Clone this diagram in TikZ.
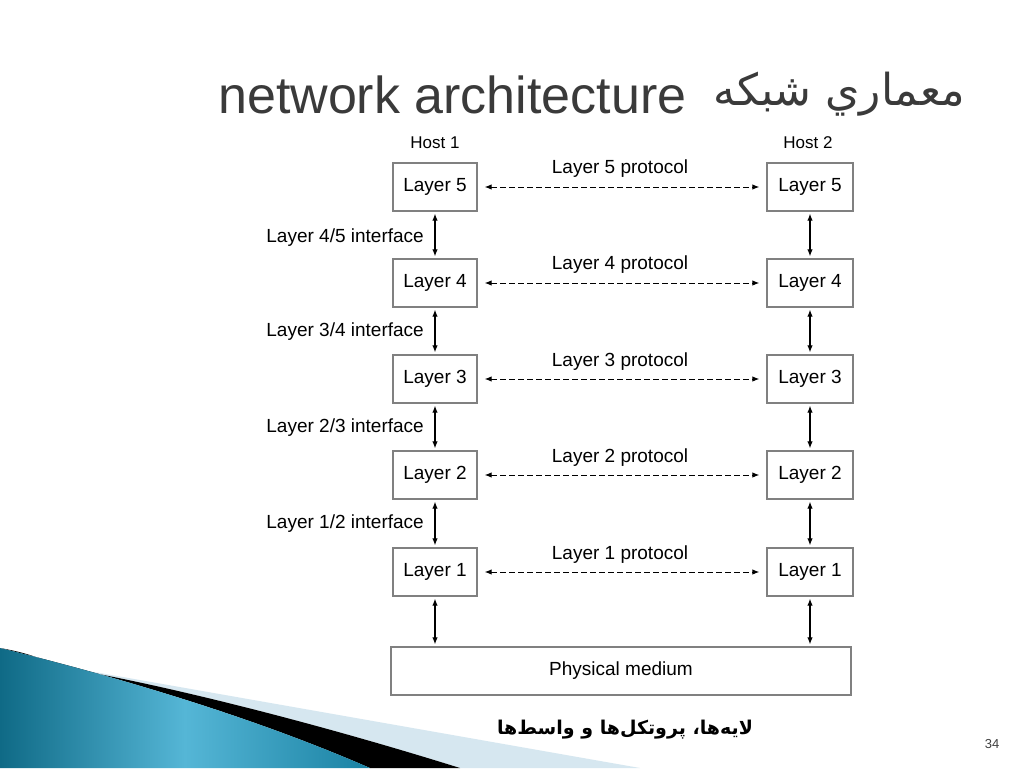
\documentclass[tikz,border=0pt]{standalone}
\usepackage{fontspec}
\setmainfont{Liberation Sans}
\newfontfamily\arabicfont[Script=Arabic]{DejaVu Sans}
\TeXXeTstate=1
\usetikzlibrary{arrows.meta}
\definecolor{boxgray}{HTML}{808080}
\definecolor{titlegray}{HTML}{3A3A3A}
\definecolor{tealdark}{HTML}{0F6A86}
\definecolor{teallight}{HTML}{55B6D6}
\definecolor{tealright}{HTML}{1A82A3}
\definecolor{paleblue}{HTML}{D6E7F0}
\begin{document}
\begin{tikzpicture}[x=1pt,y=-1pt,
  layerbox/.style={draw=boxgray, line width=1.4pt, minimum height=48pt, inner sep=0pt, font=\fontsize{19}{21}\selectfont},
  lbox/.style={layerbox, minimum width=84pt},
  rbox/.style={layerbox, minimum width=86pt},
  lbl/.style={font=\fontsize{19}{21}\selectfont, inner sep=0pt},
  hostlbl/.style={font=\fontsize{17}{19}\selectfont, inner sep=0pt},
  proto/.style={dashed, dash pattern=on 5.5pt off 3.5pt, line width=1pt, {Latex[length=7pt,width=5.5pt]}-{Latex[length=7pt,width=5.5pt]}},
  iface/.style={line width=1.1pt, {Latex[length=7pt,width=5.5pt]}-{Latex[length=7pt,width=5.5pt]}, shorten <=2pt, shorten >=2pt}
]
\useasboundingbox (0,0) rectangle (1024,768);
\fill[white] (0,0) rectangle (1024,768);

% bottom-left swoosh
\fill[paleblue] (100,673) -- (640,768) -- (460,768) .. controls (300,718) and (150,682) .. (60,667) -- cycle;
\fill[black] (0,648) .. controls (40,655) and (50,664) .. (60,667) .. controls (150,682) and (300,718) .. (460,768) -- (370,768) .. controls (260,720) and (130,680) .. (0,648) -- cycle;
\shade[left color=tealdark, right color=tealright, middle color=teallight]
  (0,648) .. controls (130,680) and (260,720) .. (370,768) -- (0,768) -- cycle;

% title
\node[anchor=base west, inner sep=0pt, text=titlegray, font=\fontsize{52}{56}\selectfont] (title) at (218,113) {network architecture};
\node[anchor=base east, inner sep=0pt, text=titlegray, font=\fontsize{44}{48}\selectfont\arabicfont] (artitle) at (965,105) {\beginR معماري شبكه\endR};

% hosts
\node[hostlbl] (h1) at (435,143) {Host 1};
\node[hostlbl] (h2) at (808,143) {Host 2};

% boxes
\node[lbox] (L5) at (435,187) {Layer 5};
\node[lbox] (L4) at (435,283) {Layer 4};
\node[lbox] (L3) at (435,379) {Layer 3};
\node[lbox] (L2) at (435,475) {Layer 2};
\node[lbox] (L1) at (435,572) {Layer 1};
\node[rbox] (R5) at (810,187) {Layer 5};
\node[rbox] (R4) at (810,283) {Layer 4};
\node[rbox] (R3) at (810,379) {Layer 3};
\node[rbox] (R2) at (810,475) {Layer 2};
\node[rbox] (R1) at (810,572) {Layer 1};
\node[layerbox, minimum width=460pt] (PM) at (621,671) {Physical medium};

% protocols
\foreach \i/\y in {5/169,4/265,3/362,2/458,1/555}{
  \node[lbl] (P\i) at (620,\y) {Layer \i{} protocol};
  \draw[proto] ([xshift=7pt]L\i.east) -- ([xshift=-7pt]R\i.west);
}

% interfaces
\node[lbl, anchor=east] (I45) at (424,238) {Layer 4/5 interface};
\node[lbl, anchor=east] (I34) at (424,332) {Layer 3/4 interface};
\node[lbl, anchor=east] (I23) at (424,428) {Layer 2/3 interface};
\node[lbl, anchor=east] (I12) at (424,524) {Layer 1/2 interface};

\foreach \a/\b in {5/4,4/3,3/2,2/1}{
  \draw[iface] (L\a.south) -- (L\b.north);
  \draw[iface] (R\a.south) -- (R\b.north);
}
\draw[iface] (L1.south) -- (L1.south |- PM.north);
\draw[iface] (R1.south) -- (R1.south |- PM.north);

% footer
\node[anchor=base, inner sep=0pt, font=\fontsize{19}{21}\selectfont\arabicfont\bfseries] (footer) at (625,734) {\beginR لایه^^^^200cها، پروتکل^^^^200cها و واسط^^^^200cها\endR};
\node[anchor=base, inner sep=0pt, text=black!75, font=\fontsize{13}{15}\selectfont] (pagenum) at (992,748) {34};
\end{tikzpicture}
\end{document}
